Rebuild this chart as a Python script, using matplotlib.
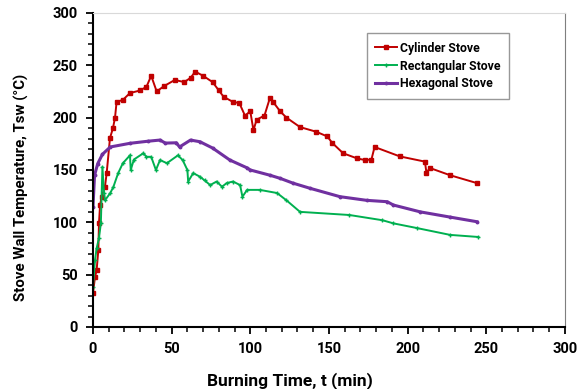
import matplotlib
matplotlib.use("Agg")
import matplotlib.pyplot as plt
from matplotlib.ticker import MultipleLocator

plt.rcParams["font.family"] = ["Roboto", "DejaVu Sans"]
plt.rcParams["font.weight"] = "bold"

# Burning time (min) and stove wall temperature (deg C)
t_cyl = [0, 1.3, 2.3, 3.4, 3.8, 4.5, 5.5, 7.6, 8.7, 10.8, 12.7, 14, 15, 19, 23.5, 30, 34,
         37, 40.5, 45, 52, 58, 62, 65, 70, 76, 80, 83, 89, 93, 96.6, 100, 102, 104, 109,
         112.5, 114.5, 119, 123, 131.6, 142, 149, 152, 159, 168, 173, 177, 179, 195, 211,
         212, 214, 227, 244]
T_cyl = [32.5, 48, 54, 73.5, 99, 116.5, 124.5, 134, 147, 180.5, 190, 200, 215, 217, 223.5,
         226, 229.5, 240, 225, 230, 236, 234, 238, 244, 240, 234, 226, 220, 215, 214, 202,
         206, 188, 198, 202, 219, 215, 206, 200, 191, 186.5, 182, 176, 166, 161, 159.5,
         160, 172, 163, 158, 147, 152, 145, 137.5]

t_rect = [0, 1.3, 2.3, 3.8, 5, 6, 7, 7.6, 11, 13, 16, 19, 23.5, 24, 26, 32, 34, 37, 40,
          42.6, 47, 54, 57, 60, 60.5, 63.7, 68, 71, 74.5, 78.6, 82, 85, 89, 93.5, 95, 98,
          106, 117, 123, 131.6, 163, 184, 191, 206, 227, 245]
T_rect = [38.5, 64, 75, 85, 99, 153, 128, 121, 128, 134, 147, 156.5, 164, 150, 160, 166,
          162.6, 162.6, 150, 159.5, 156.5, 164, 159.5, 150, 139, 147, 143.6, 140, 135.6,
          139, 134, 137.5, 139, 135.6, 124.5, 131, 131, 128, 121, 110, 107, 102, 99, 94.5,
          88, 86]

t_hex = [0, 1, 3, 6, 11, 23.5, 35, 42.6, 46, 53, 55, 62, 68, 76, 87, 98, 100, 112.5, 119,
         127, 138, 157, 174, 187, 191, 208, 227, 244]
T_hex = [115, 145, 156, 165, 172, 175.5, 177.5, 178.6, 175.7, 176, 172, 178.6, 177, 171,
         159.5, 152, 150, 145, 142, 137.5, 132.5, 124.5, 121, 119.7, 116.5, 110, 105, 100.6]

fig = plt.figure(figsize=(5.83, 3.89), dpi=100)
ax = fig.add_axes([0.1595, 0.1594, 0.8095, 0.8072])

ax.plot(t_cyl, T_cyl, color="#c00000", lw=1.4, marker="s", ms=2.6, label="Cylinder Stove")
ax.plot(t_rect, T_rect, color="#00b050", lw=1.4, marker="+", ms=3, mew=1, label="Rectangular Stove")
ax.plot(t_hex, T_hex, color="#7030a0", lw=2.2, marker="o", ms=1.8, label="Hexagonal Stove")

ax.set_xlim(0, 300)
ax.set_ylim(0, 300)
ax.xaxis.set_major_locator(MultipleLocator(50))
ax.xaxis.set_minor_locator(MultipleLocator(10))
ax.yaxis.set_major_locator(MultipleLocator(50))
ax.yaxis.set_minor_locator(MultipleLocator(10))
ax.tick_params(which="major", length=5, width=1.3, labelsize=10.5, pad=6)
ax.tick_params(which="minor", length=3.5, width=1.1)

for s in ("left", "bottom"):
    ax.spines[s].set_linewidth(1.5)
ax.spines["top"].set_color("#d9d9d9")
ax.spines["right"].set_color("#7f7f7f")

ax.set_xlabel("Burning Time, t (min)", fontsize=12.5, fontweight="bold")
ax.set_ylabel("Stove Wall Temperature, Tsw (\u00b0C)", fontsize=10.8, fontweight="bold")
ax.xaxis.set_label_coords(0.417, -0.145)
ax.yaxis.set_label_coords(-0.135, 0.446)

leg = ax.legend(loc="upper left", bbox_to_anchor=(0.58, 0.936), borderaxespad=0,
                fontsize=8.8, frameon=True, fancybox=False, edgecolor="#7f7f7f",
                handlelength=1.8, handletextpad=0.25, borderpad=0.7, labelspacing=0.4)
leg.get_frame().set_linewidth(1)

fig.savefig("out.png", dpi=100)
